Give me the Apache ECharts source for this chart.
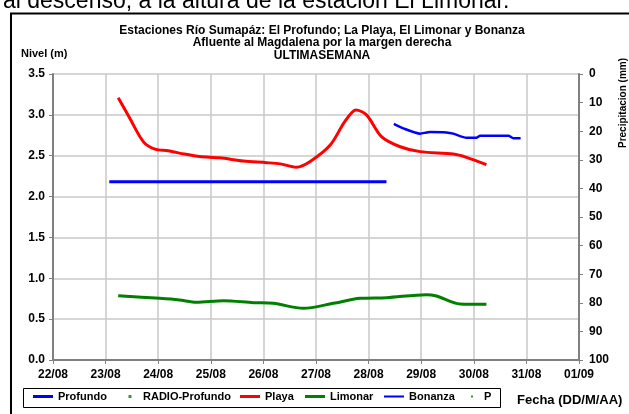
<!DOCTYPE html>
<html>
<head>
<meta charset="utf-8">
<script src="https://cdn.jsdelivr.net/npm/echarts@6/dist/echarts.min.js"></script>
<style>
html,body{margin:0;padding:0;background:#fff;}
#chart{width:629px;height:414px;}
</style>
</head>
<body>
<div id="chart"></div>
<script>
// ---- data (x = day number, 22 = 22/08, 32 = 01/09) ----
var xTickMin = 22, xTickMax = 32;
var titleLines = ['Estaciones Río Sumapáz: El Profundo; La Playa, El Limonar y Bonanza', 'Afluente al Magdalena por la margen derecha', 'ULTIMASEMANA'];
var seriesNames = ['Profundo', 'RADIO-Profundo', 'Playa', 'Limonar', 'Bonanza', 'P'];
var profundoData = [[23.07,2.18],[24.0,2.18],[25.0,2.18],[25.57,2.18],[25.6,2.19],[25.63,2.18],[26.5,2.18],[27.3,2.18],[27.33,2.19],[27.36,2.18],[28.34,2.18]];
var radioProfundoData = [];
var playaData = [[23.24,3.21],[23.45,2.97],[23.72,2.67],[23.94,2.58],[24.19,2.56],[24.5,2.52],[24.79,2.49],[25.17,2.475],[25.62,2.435],[26.06,2.415],[26.32,2.40],[26.63,2.36],[26.89,2.43],[27.27,2.63],[27.55,2.92],[27.76,3.06],[27.96,3.0],[28.25,2.73],[28.6,2.61],[28.98,2.55],[29.61,2.52],[29.86,2.48],[30.24,2.39]];
var limonarData = [[23.24,0.787],[24.03,0.755],[24.4,0.735],[24.73,0.706],[25.24,0.726],[25.81,0.702],[26.19,0.694],[26.76,0.632],[27.33,0.694],[27.84,0.755],[28.34,0.763],[29.1,0.80],[29.29,0.783],[29.74,0.685],[30.24,0.681]];
var bonanzaData = [[28.48,2.89],[28.66,2.835],[28.98,2.77],[29.1,2.785],[29.17,2.79],[29.48,2.785],[29.61,2.77],[29.86,2.72],[30.05,2.72],[30.12,2.745],[30.66,2.745],[30.75,2.715],[30.89,2.715]];
var pData = [];

var FONT = '"Liberation Sans", Arial, sans-serif';
function pad(n){ return (n < 10 ? '0' : '') + n; }
function dayLabel(v){ v = Math.round(v); return v <= 31 ? pad(v) + '/08' : pad(v - 31) + '/09'; }

var chart = echarts.init(document.getElementById('chart'));
var dotIcon = 'path://M0,0L0.01,0L0.01,0.01Z M10.5,0L13.5,0L13.5,3L10.5,3Z M19.99,2.99L20,3L19.99,3Z';
var smallDotIcon = 'path://M0,0L0.01,0L0.01,0.01Z M12,0.5L14,0.5L14,2.5L12,2.5Z M19.99,2.99L20,3L19.99,3Z';
var legendLefts = [33, 118, 240, 305, 384, 459];
var legendIcons = ['rect', dotIcon, 'rect', 'rect', 'rect', smallDotIcon];
var legendH = [3, 3, 3, 3, 2, 3];
var legends = seriesNames.map(function(n, i){
  return {
    data: [{name: n, icon: legendIcons[i]}],
    left: legendLefts[i], top: 391, padding: 0,
    itemWidth: 20, itemHeight: legendH[i],
    selectedMode: false,
    textStyle: {fontFamily: FONT, fontWeight: 'bold', fontSize: 11, color: '#000'}
  };
});

var option = {
  animation: false,
  backgroundColor: '#fff',
  title: {
    text: titleLines.join('\n'),
    left: 322, top: 24, textAlign: 'center', padding: 0,
    textStyle: {fontFamily: FONT, fontWeight: 'bold', fontSize: 12, lineHeight: 12.5, color: '#000'}
  },
  legend: legends,
  grid: {left: 53, right: 50, top: 74, bottom: 54, containLabel: false},
  xAxis: {
    type: 'value', min: xTickMin, max: xTickMax, interval: 1,
    axisLine: {lineStyle: {color: '#808080', width: 2}},
    axisTick: {show: true, length: 4, lineStyle: {color: '#808080', width: 1}},
    axisLabel: {formatter: dayLabel, margin: 9, fontFamily: FONT, fontWeight: 'bold', fontSize: 12, color: '#000'},
    splitLine: {show: true, lineStyle: {color: '#c8c8c8', width: 1.5}}
  },
  yAxis: [{
    type: 'value', min: 0, max: 3.5, interval: 0.5,
    axisLine: {show: true, lineStyle: {color: '#808080', width: 2}},
    axisTick: {show: true, length: 4, lineStyle: {color: '#808080'}},
    axisLabel: {formatter: function(v){ return v.toFixed(1); }, margin: 8, fontFamily: FONT, fontWeight: 'bold', fontSize: 12, color: '#000'},
    splitLine: {show: true, lineStyle: {color: '#c8c8c8', width: 1.5}}
  }, {
    type: 'value', min: 0, max: 100, interval: 10, inverse: true, position: 'right',
    axisLine: {show: true, lineStyle: {color: '#808080', width: 2}},
    axisTick: {show: true, length: 4, lineStyle: {color: '#808080'}},
    axisLabel: {margin: 10, fontFamily: FONT, fontWeight: 'bold', fontSize: 12, color: '#000'},
    splitLine: {show: false}
  }],
  graphic: [
    {type: 'text', left: 3, top: -10, z: 10, style: {text: 'al descenso, a la altura de la estación El Limonar.', font: '23px ' + FONT, fill: '#000'}},
    {type: 'rect', shape: {x: 11, y: 13.5, width: 700, height: 500}, style: {fill: 'none', stroke: '#000', lineWidth: 2}, z: 0},
    {type: 'text', x: 21, y: 54, style: {text: 'Nivel (m)', font: 'bold 11px ' + FONT, fill: '#000', verticalAlign: 'middle'}},
    {type: 'text', x: 623, y: 103, rotation: Math.PI / 2, style: {text: 'Precipitacion (mm)', font: 'bold 10px ' + FONT, fill: '#000', align: 'center', verticalAlign: 'middle'}},
    {type: 'text', x: 517, y: 400, style: {text: 'Fecha (DD/M/AA)', font: 'bold 13px ' + FONT, fill: '#000', verticalAlign: 'middle'}},
    {type: 'rect', shape: {x: 23.5, y: 388.5, width: 477, height: 19}, style: {fill: '#fff', stroke: '#000', lineWidth: 1}, z: 0}
  ],
  series: [
    {name: 'Profundo', type: 'line', data: profundoData, color: '#0000ff', showSymbol: false, lineStyle: {width: 3, color: '#0000ff'}, z: 3},
    {name: 'RADIO-Profundo', type: 'scatter', data: radioProfundoData, color: '#008000', symbolSize: 3},
    {name: 'Playa', type: 'line', data: playaData, smooth: 0.3, color: '#ff0000', showSymbol: false, lineStyle: {width: 3, color: '#ff0000'}},
    {name: 'Limonar', type: 'line', data: limonarData, smooth: 0.3, color: '#008000', showSymbol: false, lineStyle: {width: 3, color: '#008000'}},
    {name: 'Bonanza', type: 'line', data: bonanzaData, smooth: 0.2, color: '#0000ff', showSymbol: false, lineStyle: {width: 2.5, color: '#0000ff'}},
    {name: 'P', type: 'scatter', yAxisIndex: 1, data: pData, color: '#008000', symbolSize: 2}
  ]
};
chart.setOption(option);
</script>
</body>
</html>
